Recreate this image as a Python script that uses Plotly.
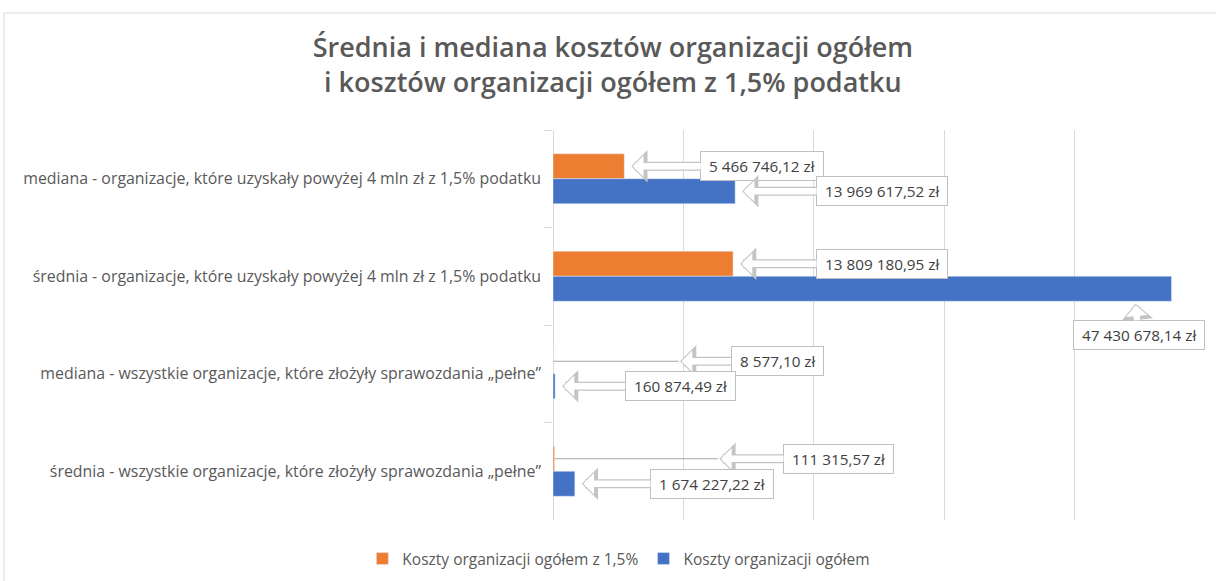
import plotly.graph_objects as go

categories = [
    "mediana - organizacje, które uzyskały powyżej 4 mln zł z 1,5% podatku",
    "średnia - organizacje, które uzyskały powyżej 4 mln zł z 1,5% podatku",
    "mediana - wszystkie organizacje, które złożyły sprawozdania „pełne”",
    "średnia - wszystkie organizacje, które złożyły sprawozdania „pełne”",
]
costs_15 = [5466746.12, 13809180.95, 8577.10, 111315.57]
costs_total = [13969617.52, 47430678.14, 160874.49, 1674227.22]
series_names = ["Koszty organizacji ogółem z 1,5%", "Koszty organizacji ogółem"]

ORANGE = "#ED7D31"
BLUE = "#4472C4"
GRID = "#d9d9d9"
FONT = "Open Sans"


def fmt(v):
    s = f"{v:,.2f}"
    intpart, dec = s.split(".")
    return "\u00a0" + intpart.replace(",", " ") + "," + dec + " zł\u00a0"


fig = go.Figure()
fig.add_trace(go.Bar(y=categories, x=costs_15, orientation="h", name=series_names[0],
                     marker=dict(color=ORANGE)))
fig.add_trace(go.Bar(y=categories, x=costs_total, orientation="h", name=series_names[1],
                     marker=dict(color=BLUE)))

# label placement: (value, category index, series shift, xshift tip, yshift extra, ax, ay, standoff, leader)
labels = [
    (costs_15[0], 0, 12.5, 0, 0, 138, 0, 7, False),
    (costs_total[0], 0, -12.5, 0, 0, 147, 0, 7, False),
    (costs_15[1], 1, 12.5, 0, 0, 149, 0, 7, False),
    (costs_total[1], 1, -12.5, -36, -15, 3, 31, 0, False),
    (costs_15[2], 2, 12.5, 127, 0, 97, 0, 0, True),
    (costs_total[2], 2, -12.5, 0, 0, 125, 0, 7, False),
    (costs_15[3], 3, 12.5, 165, 0, 119, 0, 0, True),
    (costs_total[3], 3, -12.5, 0, 0, 137, 0, 7, False),
]

annotations = []
for v, ci, sy, xs, ys, ax, ay, so, leader in labels:
    if leader:
        annotations.append(dict(
            x=v, y=categories[ci], xref="x", yref="y", yshift=sy,
            ax=xs, ay=0, text="", showarrow=True, arrowhead=0,
            arrowwidth=1, arrowcolor="#a6a6a6"))
    common = dict(x=v, y=categories[ci], xref="x", yref="y",
                  xshift=xs, yshift=sy + ys, ax=ax, ay=ay,
                  text=fmt(v), showarrow=True, standoff=so,
                  font=dict(family=FONT, size=15.3, color="#404040"),
                  bgcolor="white", bordercolor="#bfbfbf", borderwidth=1, borderpad=4)
    annotations.append(dict(common, arrowhead=1, arrowsize=0.6, arrowwidth=9,
                            arrowcolor="#c4c4c4"))
    annotations.append(dict(common, arrowhead=1, arrowsize=0.55, arrowwidth=6.5,
                            arrowcolor="white", standoff=so + 1.5))

fig.update_layout(
    width=1216, height=581,
    margin=dict(l=553, r=11, t=130, b=61, autoexpand=False),
    paper_bgcolor="white", plot_bgcolor="white",
    barmode="group", bargap=0.487, bargroupgap=0,
    title=dict(text="Średnia i mediana kosztów organizacji ogółem<br>i kosztów organizacji ogółem z 1,5% podatku",
               x=0.504, xanchor="center", y=0.902, yanchor="middle",
               font=dict(family=FONT, size=27, color="#595959", weight=600)),
    xaxis=dict(range=[0, 50000000], dtick=10000000, showticklabels=False,
               showgrid=True, gridcolor=GRID, gridwidth=1, zeroline=True,
               zerolinecolor=GRID, zerolinewidth=1, fixedrange=True, automargin=False),
    yaxis=dict(autorange="reversed", ticks="outside", tickson="boundaries",
               ticklen=8, tickcolor=GRID, showgrid=False, showline=False,
               ticklabelstandoff=11, automargin=False,
               tickfont=dict(family=FONT, size=15.9, color="#595959")),
    legend=dict(orientation="h", x=0.101, xanchor="center", y=-0.1, yanchor="middle",
                font=dict(family=FONT, size=15.5, color="#595959"),
                traceorder="normal"),
    annotations=annotations,
    shapes=[dict(type="rect", xref="paper", yref="paper",
                 x0=(4 - 553) / 652, x1=(1230 - 553) / 652,
                 y0=(520 - 600) / 390, y1=(520 - 13) / 390,
                 line=dict(color=GRID, width=1), fillcolor="rgba(0,0,0,0)", layer="below")],
)

fig.write_html("out.html", config={"displayModeBar": False},
               post_script="document.body.style.margin='0';")
